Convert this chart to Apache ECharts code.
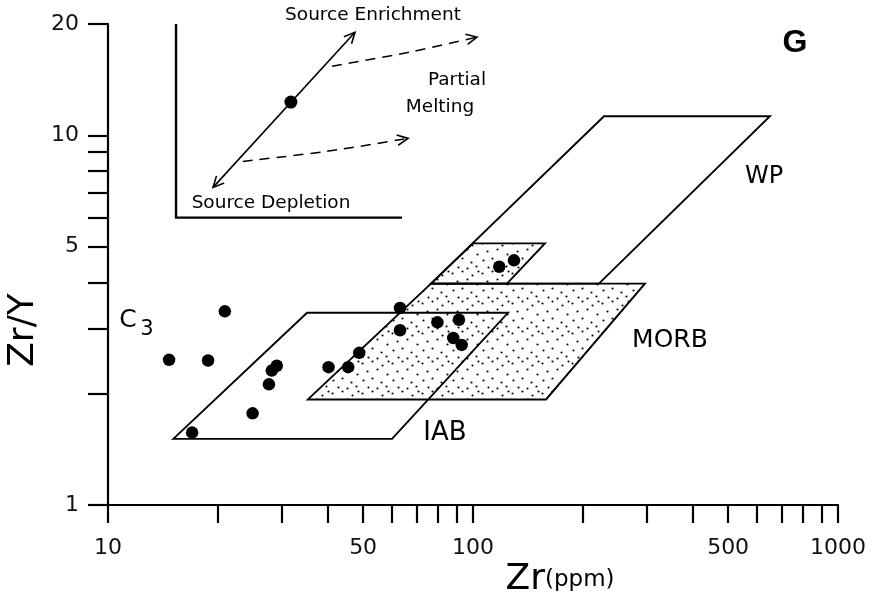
<!DOCTYPE html>
<html><head><meta charset="utf-8">
<script src="https://cdn.jsdelivr.net/npm/echarts@6/dist/echarts.min.js"></script>
<style>html,body{margin:0;padding:0;background:#fff}#c{width:880px;height:602px}</style>
</head><body><div id="c"></div>
<script>
// ---- Sample points (Zr ppm, Zr/Y) ----
const sampleZr  = [14.7, 18.8, 20.9, 17.0, 24.9, 27.6, 28.1, 29.0, 40.2, 45.5, 48.8, 63.1, 63.1, 79.9, 91.5, 88.3, 93.1, 118.0, 129.5];
const sampleZrY = [2.47, 2.46, 3.34, 1.57, 1.77, 2.12, 2.31, 2.38, 2.36, 2.36, 2.58, 3.41, 2.97, 3.12, 3.17, 2.83, 2.71, 4.41, 4.59];

// ---- Discrimination fields (vertices) ----
const iabZr   = [15.1, 35.1, 124.7, 60.0];
const iabZrY  = [1.51, 3.31, 3.31, 1.51];
const morbZr  = [35.3, 76.7, 295.8, 158.5];
const morbZrY = [1.93, 3.97, 3.97, 1.93];
const upperZr  = [76.7, 100.0, 157.4, 123.9];
const upperZrY = [3.97, 5.10, 5.10, 3.97];
const wpZr   = [76.7, 228.5, 651.0, 221.3];
const wpZrY  = [3.97, 11.26, 11.26, 3.97];

// ---- Inset schematic ----
const frameZr  = [15.36, 15.36, 63.9];
const frameZrY = [20.0, 5.99, 5.99];
const trendZr  = [19.4, 47.5];
const trendZrY = [7.23, 19.0];
const sourceZr  = [31.7];
const sourceZrY = [12.3];
const meltHiZr  = [41.1, 67.2, 102.6];
const meltHiZrY = [15.38, 16.79, 18.44];
const meltLoZr  = [23.4, 39.8, 66.4];
const meltLoZrY = [8.5, 9.05, 9.81];

// ---- Axis ticks / labels ----
const xTicks  = [10,20,30,40,50,60,70,80,90,100,200,300,400,500,600,700,800,900,1000];
const xLabels = [10,50,100,500,1000];
const yTicks  = [1,2,3,4,5,6,7,8,9,10,20];
const yLabels = [1,5,10,20];

const L = Math.log10;

// stipple pattern
const pat = document.createElement('canvas');
pat.width = 30; pat.height = 30;
(function(){
  const g = pat.getContext('2d');
  g.fillStyle = '#000';
  const dots = [[2,3],[12,1],[22,5],[7,11],[17,9],[27,14],[3,20],[12,18],[21,22],[8,27],[26,26],[17,28],[28,1]];
  dots.forEach(d => { g.beginPath(); g.arc(d[0]+0.5, d[1]+0.5, 1.05, 0, Math.PI*2); g.fill(); });
})();

function polySeries(xs, ys, fill, z) {
  return {
    type: 'custom', coordinateSystem: 'cartesian2d', z: z, silent: true,
    data: xs.map((v,i)=>[L(v), L(ys[i])]),
    renderItem: function(params, api) {
      if (params.dataIndex !== 0) return;
      const pts = xs.map((v,i)=>api.coord([L(v), L(ys[i])]));
      return { type:'polygon', shape:{points:pts},
        style:{ fill: fill ? {image: pat, repeat:'repeat'} : 'none', stroke:'#000', lineWidth:1.9 } };
    }
  };
}

function arrowHead(p, q, len) {
  const dx = p[0]-q[0], dy = p[1]-q[1];
  const d = Math.sqrt(dx*dx+dy*dy) || 1;
  const ux = dx/d, uy = dy/d, a = 0.45;
  const c = Math.cos(a), s = Math.sin(a);
  const w1 = [p[0] - len*(ux*c - uy*s), p[1] - len*(uy*c + ux*s)];
  const w2 = [p[0] - len*(ux*c + uy*s), p[1] - len*(uy*c - ux*s)];
  return { type:'polyline', shape:{points:[w1,p,w2]}, style:{stroke:'#000', lineWidth:1.6, fill:'none'} };
}

function lineSeries(xs, ys, opts, z) {
  return {
    type: 'custom', coordinateSystem: 'cartesian2d', z: z, silent: true, clip: false,
    data: xs.map((v,i)=>[L(v), L(ys[i])]),
    renderItem: function(params, api) {
      if (params.dataIndex !== 0) return;
      const pts = xs.map((v,i)=>api.coord([L(v), L(ys[i])]));
      const children = [{ type:'polyline', shape:{points:pts, smooth: opts.smooth || 0},
        style:{ stroke:'#000', lineWidth: opts.width || 1.4, fill:'none', lineDash: opts.dash || null } }];
      const n = pts.length;
      if (opts.endArrow) children.push(arrowHead(pts[n-1], pts[n-2], 12));
      if (opts.startArrow) children.push(arrowHead(pts[0], pts[1], 12));
      return { type:'group', children: children };
    }
  };
}

const labelFont = 'DejaVu Sans';
const chart = echarts.init(document.getElementById('c'), null, {renderer:'canvas'});
chart.setOption({
  animation: false,
  backgroundColor: '#fff',
  grid: { left:108, right:42, top:24, bottom:97, containLabel:false },
  xAxis: {
    type:'value', min:1, max:3,
    axisLine:{ show:true, onZero:false, lineStyle:{color:'#000', width:2.2} },
    axisTick:{ show:true, length:18, lineStyle:{color:'#000', width:2.2}, customValues: xTicks.map(L) },
    axisLabel:{ show:true, customValues: xLabels.map(L), margin:32, fontSize:22, color:'#111', fontFamily:labelFont,
      formatter: v => String(Math.round(Math.pow(10, v))) },
    splitLine:{show:false}
  },
  yAxis: {
    type:'value', min:0, max:L(20),
    axisLine:{ show:true, onZero:false, lineStyle:{color:'#000', width:2.2} },
    axisTick:{ show:true, length:20, lineStyle:{color:'#000', width:2.2}, customValues: yTicks.map(L) },
    axisLabel:{ show:true, customValues: yLabels.map(L), margin:29, fontSize:22, color:'#111', fontFamily:labelFont,
      formatter: v => String(Math.round(Math.pow(10, v))) },
    splitLine:{show:false}
  },
  series: [
    polySeries(morbZr, morbZrY, true, 2),
    polySeries(upperZr, upperZrY, true, 2),
    polySeries(wpZr, wpZrY, false, 3),
    polySeries(iabZr, iabZrY, false, 3),
    lineSeries(frameZr, frameZrY, {width:2.4}, 4),
    lineSeries(trendZr, trendZrY, {width:1.6, startArrow:true, endArrow:true}, 4),
    lineSeries(meltHiZr, meltHiZrY, {width:1.5, dash:[10,7], smooth:0.3, endArrow:true}, 4),
    lineSeries(meltLoZr, meltLoZrY, {width:1.5, dash:[10,7], smooth:0.3, endArrow:true}, 4),
    { type:'scatter', z:6, symbol:'circle', symbolSize:13, itemStyle:{color:'#000', opacity:1}, silent:true,
      data: sourceZr.map((v,i)=>[L(v), L(sourceZrY[i])]) },
    { type:'scatter', z:6, symbol:'circle', symbolSize:12.5, itemStyle:{color:'#000', opacity:1}, silent:true,
      data: sampleZr.map((v,i)=>[L(v), L(sampleZrY[i])]) }
  ],
  graphic: [
    { type:'text', x:795, y:43, style:{ text:'G', font:'bold 32px "Liberation Sans"', fill:'#000', align:'center', verticalAlign:'middle' } },
    { type:'text', x:373, y:15, style:{ text:'Source Enrichment', font:'18.5px "DejaVu Sans"', fill:'#000', align:'center', verticalAlign:'middle' } },
    { type:'text', x:457, y:80, style:{ text:'Partial', font:'18.5px "DejaVu Sans"', fill:'#000', align:'center', verticalAlign:'middle' } },
    { type:'text', x:440, y:107, style:{ text:'Melting', font:'18.5px "DejaVu Sans"', fill:'#000', align:'center', verticalAlign:'middle' } },
    { type:'text', x:271, y:203, style:{ text:'Source Depletion', font:'18.5px "DejaVu Sans"', fill:'#000', align:'center', verticalAlign:'middle' } },
    { type:'text', x:764, y:177, style:{ text:'WP', font:'24px "DejaVu Sans"', fill:'#000', align:'center', verticalAlign:'middle' } },
    { type:'text', x:670, y:340, style:{ text:'MORB', font:'25px "DejaVu Sans"', fill:'#000', align:'center', verticalAlign:'middle' } },
    { type:'text', x:445, y:433, style:{ text:'IAB', font:'26px "DejaVu Sans"', fill:'#000', align:'center', verticalAlign:'middle' } },
    { type:'text', x:128, y:320, style:{ text:'C', font:'25px "DejaVu Sans"', fill:'#000', align:'center', verticalAlign:'middle' } },
    { type:'text', x:147, y:330, style:{ text:'3', font:'21px "DejaVu Sans"', fill:'#000', align:'center', verticalAlign:'middle' } },
    { type:'text', x:24, y:330, rotation: Math.PI/2, style:{ text:'Zr/Y', font:'36px "DejaVu Sans"', fill:'#000', align:'center', verticalAlign:'middle' } },
    { type:'text', x:560, y:580, style:{ text:'{a|Zr}{b|(ppm)}', fill:'#000', align:'center', verticalAlign:'middle',
      rich:{ a:{ font:'36px "DejaVu Sans"', fill:'#000' }, b:{ font:'23px "DejaVu Sans"', fill:'#000' } } } }
  ]
});
</script></body></html>
